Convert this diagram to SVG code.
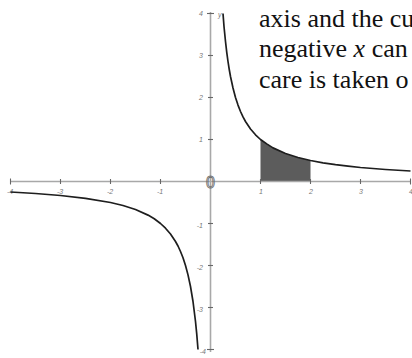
<svg xmlns="http://www.w3.org/2000/svg" width="412" height="358" viewBox="0 0 412 358">
<style>
.axis{stroke:#a8a8a8;stroke-width:1.6;fill:none}
.tick{stroke:#666;stroke-width:1.1}
.lbl{font-family:'Liberation Sans',Arial,sans-serif;font-size:7px;fill:#777;font-style:italic}
.curve{stroke:#1e1e1e;stroke-width:1.7;fill:none;stroke-linejoin:round}
</style>
<rect width="412" height="358" fill="#fff"/>
<g id="shaded-area">
<path d="M260.5,181.5 L260.5,139.5 L273,147.9 L285.5,153.5 L298,157.5 L310.5,160.5 L310.5,181.5 Z" fill="#5c5c5c"/>
</g>
<g id="axes">
<line class="axis" x1="10" y1="181.5" x2="411" y2="181.5"/>
<line class="axis" x1="210.5" y1="12" x2="210.5" y2="352"/>
<g class="tick">
<line x1="10.5" y1="178.5" x2="10.5" y2="184.5"/>
<line x1="60.5" y1="179" x2="60.5" y2="184"/>
<line x1="110.5" y1="179" x2="110.5" y2="184"/>
<line x1="160.5" y1="179" x2="160.5" y2="184"/>
<line x1="260.5" y1="179" x2="260.5" y2="184"/>
<line x1="310.5" y1="179" x2="310.5" y2="184"/>
<line x1="360.5" y1="179" x2="360.5" y2="184"/>
<line x1="410.5" y1="178.5" x2="410.5" y2="184.5"/>
<line x1="207" y1="13.5" x2="214" y2="13.5"/>
<line x1="208" y1="55.5" x2="213" y2="55.5"/>
<line x1="208" y1="97.5" x2="213" y2="97.5"/>
<line x1="208" y1="139.5" x2="213" y2="139.5"/>
<line x1="208" y1="223.5" x2="213" y2="223.5"/>
<line x1="208" y1="265.5" x2="213" y2="265.5"/>
<line x1="208" y1="307.5" x2="213" y2="307.5"/>
<line x1="207" y1="349.5" x2="214" y2="349.5"/>
</g>
</g>
<g id="tick-labels">
<text class="lbl" x="10" y="194" text-anchor="middle">-4</text>
<text class="lbl" x="60" y="194" text-anchor="middle">-3</text>
<text class="lbl" x="110" y="194" text-anchor="middle">-2</text>
<text class="lbl" x="160" y="194" text-anchor="middle">-1</text>
<text class="lbl" x="261" y="194" text-anchor="middle">1</text>
<text class="lbl" x="311" y="194" text-anchor="middle">2</text>
<text class="lbl" x="361" y="194" text-anchor="middle">3</text>
<text class="lbl" x="411" y="194" text-anchor="middle">4</text>
<text class="lbl" x="203" y="16" text-anchor="end">4</text>
<text class="lbl" x="203" y="58" text-anchor="end">3</text>
<text class="lbl" x="203" y="100" text-anchor="end">2</text>
<text class="lbl" x="203" y="142" text-anchor="end">1</text>
<text class="lbl" x="203" y="228" text-anchor="end">-1</text>
<text class="lbl" x="203" y="270" text-anchor="end">-2</text>
<text class="lbl" x="203" y="312" text-anchor="end">-3</text>
<text class="lbl" x="206" y="354" text-anchor="end">-4</text>
<text class="lbl" x="218" y="17">y</text>
<text x="210.5" y="187.5" text-anchor="middle" font-family="Liberation Sans, Arial, sans-serif" font-size="16" fill="none" stroke="#707070" stroke-width="0.9" opacity="0.99">0</text>
</g>
<g id="curve">
<path class="curve" d="M223,13.5 L224,26.5 L225.5,41.5 L226.75,52.3 L228,61.5 L229.25,69.5 L230.5,76.5 L233,88 L235.5,97.5 L238,105.1 L240.5,111.5 L243,116.9 L245.5,121.5 L250.5,129 L255.5,134.8 L260.5,139.5 L266.75,143.9 L273,147.9 L285.5,153.5 L298,157.5 L310.5,160.5 L323,162.8 L335.5,164.7 L348,166.2 L360.5,167.5 L385.5,169.5 L410.5,171"/>
<path class="curve" d="M10.5,192 L35.5,193.5 L60.5,195.5 L85.5,198.3 L110.5,202.5 L123,205.5 L135.5,209.5 L148,215.1 L154.25,218.8 L160.5,223.5 L165.5,228.2 L170.5,234 L175.5,241.5 L178,246 L180.5,251.5 L183,257.7 L185.5,265.5 L188,274.9 L190.5,286.5 L193,301.5 L195.5,321.5 L196.75,334.2 L198,349.5"/>
</g>
<g id="caption" font-family="Liberation Serif, Times New Roman, serif" font-size="26" fill="#111">
<text x="259" y="26.5">axis and the cu</text>
<text x="259" y="57">negative <tspan font-style="italic">x</tspan> can</text>
<text x="259" y="87.5">care is taken o</text>
</g>
</svg>
